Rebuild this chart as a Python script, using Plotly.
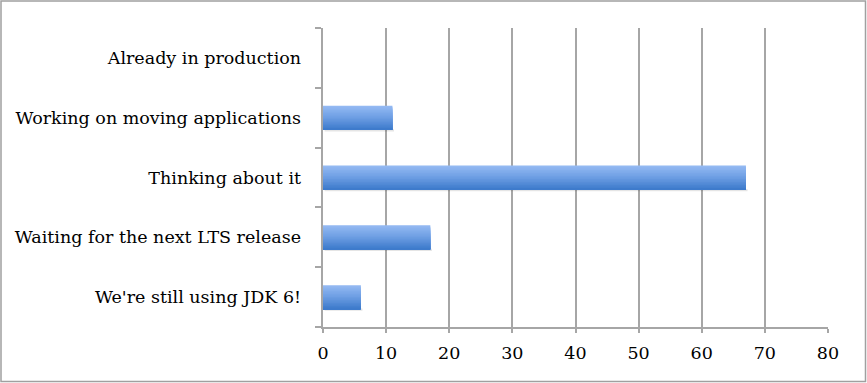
import plotly.graph_objects as go

categories = ["We're still using JDK 6!", "Waiting for the next LTS release", "Thinking about it",
              "Working on moving applications", "Already in production"]
values = [6, 17, 67, 11, 0]
x_ticks = [0, 10, 20, 30, 40, 50, 60, 70, 80]

W, H = 867, 383
L, R, T, B = 323, 39, 28, 56
pw, ph = W - L - R, H - T - B

# vertical gradient from light (top) to darker (bottom), emulated with overlapping bands
top_rgb = (0x93, 0xb9, 0xf2)
mid_rgb = (0x6c, 0x9d, 0xe3)
bot_rgb = (0x3e, 0x7b, 0xcc)
n_bands = 16
bar_w = 0.4
band = bar_w / n_bands

def lerp(a, b, t):
    return tuple(int(round(a[i] + (b[i] - a[i]) * t)) for i in range(3))

fig = go.Figure()
# faint shadow
fig.add_trace(go.Bar(y=categories, x=values, orientation="h", width=band * 1.5,
                     offset=-bar_w / 2 - band * 1.2, base=0.25,
                     marker=dict(color="rgba(0,0,0,0.10)", line=dict(width=0)), hoverinfo="skip"))
for i in range(n_bands):
    t = i / (n_bands - 1)
    if t < 0.5:
        c = lerp(top_rgb, mid_rgb, t / 0.5)
    else:
        c = lerp(mid_rgb, bot_rgb, (t - 0.5) / 0.5)
    fig.add_trace(go.Bar(
        y=categories, x=values, orientation="h",
        width=bar_w - i * band, offset=-bar_w / 2,
        marker=dict(color="rgb(%d,%d,%d)" % c, line=dict(width=0)),
        hoverinfo="skip" if i else None,
    ))
fig.update_layout(
    width=W, height=H,
    margin=dict(l=L, r=R, t=T, b=B),
    paper_bgcolor="white", plot_bgcolor="white",
    showlegend=False, barmode="overlay",
    font=dict(family="DejaVu Serif, Liberation Serif, serif", size=17.5, color="black"),
    xaxis=dict(range=[0, 80], tickvals=x_ticks, showgrid=True, gridcolor="#a6a6a6", gridwidth=1.5,
               zeroline=False, showline=True, linecolor="#a6a6a6", linewidth=1.5,
               ticks="outside", ticklen=4, tickcolor="#a6a6a6", tickwidth=1.5, fixedrange=True,
               ticklabelstandoff=5),
    yaxis=dict(type="category", categoryorder="array", categoryarray=categories,
               tickson="boundaries", ticks="outside", ticklen=6, tickcolor="#a6a6a6", tickwidth=1.5,
               showline=True, linecolor="#a6a6a6", linewidth=1.5, showgrid=False, zeroline=False,
               ticksuffix="   ", fixedrange=True),
    shapes=[dict(type="rect", xref="paper", yref="paper",
                 x0=(1 - L) / pw, x1=(W - 1.5 - L) / pw,
                 y0=-(B - 1.5) / ph, y1=1 + (T - 1) / ph,
                 line=dict(color="#a0a0a0", width=1.5))],
)
fig.write_html("out.html", config={"displayModeBar": False},
               post_script="document.body.style.margin='0';document.body.style.overflow='hidden';")
